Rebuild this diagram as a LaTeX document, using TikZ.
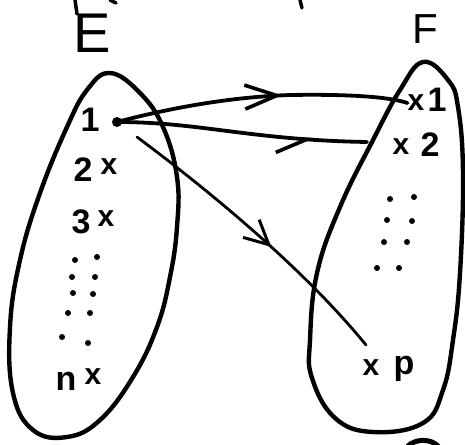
\documentclass[tikz,border=0pt]{standalone}
\usepackage{fontspec}
\setmainfont{Liberation Sans}
\usetikzlibrary{decorations.markings,arrows.meta}
\begin{document}
\begin{tikzpicture}[x=1pt,y=-1pt,line cap=round,line join=round,
  lbl/.style={font=\fontsize{34}{34}\selectfont\bfseries,inner sep=0pt},
  xm/.style={font=\fontsize{30}{30}\selectfont\bfseries,inner sep=0pt},
  big/.style={font=\fontsize{56}{56}\selectfont,inner sep=0pt},
  setline/.style={line width=4.4pt},
  dotm/.style={fill,circle,inner sep=0pt,minimum size=10pt},
  maparrow/.style={line width=3.8pt},
  thinarrow/.style={line width=2.8pt},
  midbarb/.style={postaction={decorate},decoration={markings,mark=at position #1 with {\arrow{Straight Barb[length=32pt,width=24pt,line width=3.6pt]}}}},
  midharp/.style={postaction={decorate},decoration={markings,mark=at position #1 with {\arrow{Straight Barb[harpoon,swap,length=30pt,width=30pt,line width=3.6pt]}}}},
  thinbarb/.style={postaction={decorate},decoration={markings,mark=at position #1 with {\arrow{Straight Barb[length=24pt,width=24pt,line width=3pt]}}}},
  ]
\useasboundingbox (0,0) rectangle (465,444);
\fill[white] (0,0) rectangle (465,444);

% cut-off strokes at the edges
\draw[line width=3.5pt] (75,0) -- (77,14);
\draw[line width=3.5pt] (110,0) -- (116,3);
\draw[line width=3.5pt] (300,0) -- (302,8);
\draw[line width=5pt] (408,446) .. controls (415,439) and (430,438) .. (438,446);

% titles
\node[big] (E) at (92,33) {E};
\node[big,font=\fontsize{42}{42}\selectfont] (F) at (425,29) {F};

% set outlines
\draw[setline] plot[smooth cycle,tension=0.7] coordinates {(110,73) (140,93) (163,127) (177,177) (177,227) (170,277) (157,327) (133,377) (100,420) (67,437) (33,430) (13,393) (10,327) (20,260) (40,193) (67,127) (87,90)};
\draw[setline] plot[smooth cycle,tension=0.7] coordinates {(423,62) (448,80) (458,107) (463,173) (460,273) (453,340) (443,390) (423,423) (373,432) (335,418) (312,378) (310,340) (317,273) (340,207) (373,140) (400,90)};

% elements of E
\node[lbl] (e1) at (90,120) {1};
\node[dotm] (a1) at (117,122) {};
\node[lbl] (e2) at (83,170) {2};
\node[xm] (x2) at (109,167) {x};
\node[lbl] (e3) at (81,222) {3};
\node[xm] (x3) at (106,219) {x};
\node[lbl] (en) at (66,381) {n};
\node[xm] (xn) at (93,377) {x};
\foreach \p in {(75,260),(97,257),(72,277),(95,277),(73,293),(93,294),(68,313),(90,313),(62,337),(88,343)}
  \fill \p circle (3pt);

% elements of F
\node[xm] (f1x) at (416,103) {x};
\node[lbl] (f1) at (437,100) {1};
\node[xm] (f2x) at (401,147) {x};
\node[lbl] (f2) at (430,145) {2};
\node[xm] (fpx) at (371,368) {x};
\node[lbl] (fp) at (404,369) {p};
\foreach \p in {(390,199),(414,197),(387,220),(412,221),(384,242),(407,242),(377,268),(399,268)}
  \fill \p circle (3pt);

% connector ends
\coordinate (s3) at (137,137);
\coordinate (t2) at (367,142);
\coordinate (t3) at (366,345);

% maps
\draw[maparrow,midbarb=0.57] (a1.center) .. controls (170,108) and (230,97) .. (290,95) .. controls (350,94) and (390,97) .. (f1x.west);
\draw[maparrow,midharp=0.79] (a1.center) .. controls (200,122) and (250,140) .. (t2);
\draw[thinarrow,thinbarb=0.56] (s3) .. controls (200,184) and (300,264) .. (t3);
\end{tikzpicture}
\end{document}
